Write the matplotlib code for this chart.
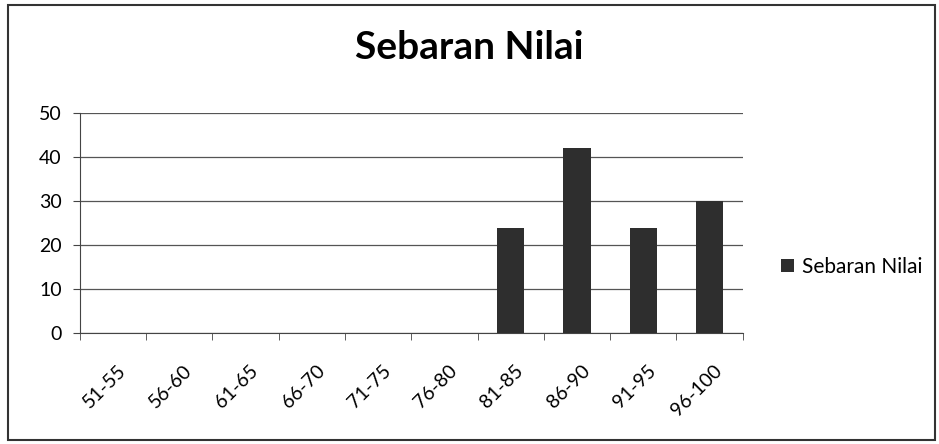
import matplotlib
matplotlib.use('Agg')
import matplotlib.pyplot as plt
from matplotlib.patches import Rectangle
import numpy as np

plt.rcParams['font.family'] = ['Lato', 'DejaVu Sans']

categories = ['51-55', '56-60', '61-65', '66-70', '71-75',
              '76-80', '81-85', '86-90', '91-95', '96-100']
values = [0, 0, 0, 0, 0, 0, 24, 42, 24, 30]
y_ticks = [0, 10, 20, 30, 40, 50]

fig = plt.figure(figsize=(9.39, 4.44), dpi=100)
ax = fig.add_axes([0.085, 0.25, 0.706, 0.495])

x = np.arange(len(categories))
ax.bar(x, values, width=0.41, color='#2e2e2e', label='Sebaran Nilai', zorder=3)

ax.set_xlim(-0.5, len(categories) - 0.5)
ax.set_ylim(0, 50)
ax.set_yticks(y_ticks)
ax.set_yticklabels([str(v) for v in y_ticks], fontsize=14)
ax.yaxis.grid(True, color='#555555', linewidth=0.9, zorder=0)
ax.tick_params(axis='y', length=5, color='#444444', pad=8)

# category labels between boundary ticks, like Excel
ax.set_xticks(x + 0.06)
ax.set_xticklabels(categories, rotation=45, ha='right', rotation_mode='anchor', fontsize=14)
ax.tick_params(axis='x', length=0, pad=21)
ax.set_xticks(np.arange(-0.5, len(categories)), minor=True)
ax.tick_params(axis='x', which='minor', length=5, color='#444444')

for s in ['top', 'right']:
    ax.spines[s].set_visible(False)
ax.spines['left'].set_color('#444444')
ax.spines['bottom'].set_color('#444444')

fig.text(0.5, 0.893, 'Sebaran Nilai', ha='center', va='center',
         fontsize=28, fontweight='bold')

ax.legend(loc='center left', bbox_to_anchor=(1.03, 0.3), frameon=False,
          fontsize=15, handlelength=0.6, handleheight=0.6, handletextpad=0.4)

fig.patches.append(Rectangle((0.009, 0.01), 0.987, 0.978, transform=fig.transFigure,
                             fill=False, edgecolor='#333333', linewidth=1.5))

fig.savefig('out.png', dpi=100)
